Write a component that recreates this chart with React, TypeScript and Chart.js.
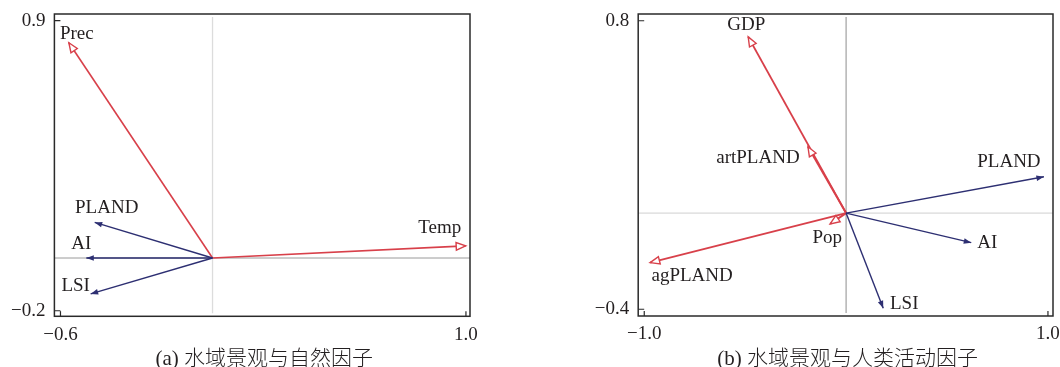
import React, { useEffect, useRef } from 'react';
import { Chart, registerables } from 'chart.js';

Chart.register(...registerables);

// ---------------- Data: panel (a) 水域景观与自然因子 ----------------
const aNames = ['PLAND', 'AI', 'LSI', 'Prec', 'Temp'];
const aX = [-0.465, -0.498, -0.481, -0.567, 0.999];
const aY = [0.135, 0.0, -0.136, 0.816, 0.046];
const aKind = ['landscape', 'landscape', 'landscape', 'factor', 'factor'];
const aXTicks = [-0.6, 1.0];
const aYTicks = [-0.2, 0.9];
const aXRange = [-0.624, 1.016];
const aYRange = [-0.221, 0.925];
const aCaption = '(a) 水域景观与自然因子';

// ---------------- Data: panel (b) 水域景观与人类活动因子 ----------------
const bNames = ['PLAND', 'AI', 'LSI', 'GDP', 'artPLAND', 'Pop', 'agPLAND'];
const bX = [0.98, 0.62, 0.184, -0.485, -0.189, -0.079, -0.971];
const bY = [0.151, -0.123, -0.396, 0.733, 0.276, -0.045, -0.206];
const bKind = ['landscape', 'landscape', 'landscape', 'factor', 'factor', 'factor', 'factor'];
const bXTicks = [-1.0, 1.0];
const bYTicks = [-0.4, 0.8];
const bXRange = [-1.03, 1.025];
const bYRange = [-0.428, 0.828];
const bCaption = '(b) 水域景观与人类活动因子';

// ---------------- Styles / layout ----------------
const RED = '#d8404a';
const NAVY = '#2d2f72';
const TEXT = '#231f20';
const SERIF = "'Liberation Serif', 'Times New Roman', serif";
const CAPTION_FONT = "300 21px 'Liberation Serif', 'Noto Sans CJK SC', serif";

// label offsets (pixels from arrow tip to label centre)
const aLabelOffsets = [[12, -14], [-5, -14], [-15, -8], [8, -9], [-26, -18]];
const bLabelOffsets = [[-35, -15], [16, 0], [21, -4], [-2, -12], [-50, 11], [-3, 14], [42, 13]];

const aLayout = { left: 54.4, right: 60, top: 14, bottom: 50.7, hLine: '#9a9a9a', vLine: '#dcdcdc', redWidth: 1.6 };
const bLayout = { left: 108.2, right: 7, top: 14, bottom: 51, hLine: '#cfcfcf', vLine: '#a8a8a8', redWidth: 1.9 };

const fmt = (v: number) => (v < 0 ? '\u2212' : '') + Math.abs(v).toFixed(1);

type PanelProps = {
  names: string[];
  xs: number[];
  ys: number[];
  kinds: string[];
  xTicks: number[];
  yTicks: number[];
  xRange: number[];
  yRange: number[];
  caption: string;
  offsets: number[][];
  layout: any;
};

function Panel(props: PanelProps) {
  const ref = useRef<HTMLCanvasElement | null>(null);
  useEffect(() => {
    const { names, xs, ys, kinds, xTicks, yTicks, xRange, yRange, caption, offsets, layout } = props;
    const order = names.map((_, i) => i).sort((i, j) => (kinds[i] === kinds[j] ? 0 : kinds[i] === 'landscape' ? -1 : 1));
    const datasets = order.map((i) => ({
      label: names[i],
      data: [{ x: 0, y: 0 }, { x: xs[i], y: ys[i] }],
      showLine: true,
      borderColor: kinds[i] === 'factor' ? RED : NAVY,
      borderWidth: kinds[i] === 'factor' ? layout.redWidth : 1.4,
      pointRadius: 0,
      pointHoverRadius: 0,
      fill: false,
    }));

    const arrowPlugin = {
      id: 'arrows',
      beforeDatasetsDraw(chart: any) {
        const { ctx, chartArea: ca, scales } = chart;
        const x0 = scales.x.getPixelForValue(0);
        const y0 = scales.y.getPixelForValue(0);
        ctx.save();
        ctx.lineWidth = 1;
        ctx.strokeStyle = layout.hLine;
        ctx.beginPath();
        ctx.moveTo(ca.left, y0);
        ctx.lineTo(ca.right, y0);
        ctx.stroke();
        ctx.strokeStyle = layout.vLine;
        ctx.lineWidth = 1.3;
        ctx.beginPath();
        ctx.moveTo(x0, ca.top + 3);
        ctx.lineTo(x0, ca.bottom - 3);
        ctx.stroke();
        ctx.restore();
      },
      afterDatasetsDraw(chart: any) {
        const { ctx, scales } = chart;
        const sx = scales.x;
        const sy = scales.y;
        const ox = sx.getPixelForValue(0);
        const oy = sy.getPixelForValue(0);
        ctx.save();
        order.forEach((i) => {
          const px = sx.getPixelForValue(xs[i]);
          const py = sy.getPixelForValue(ys[i]);
          const ang = Math.atan2(py - oy, px - ox);
          const open = kinds[i] === 'factor';
          const L = open ? 9.5 : 7.5;
          const W = open ? 3.8 : 2.8;
          const bx = px - L * Math.cos(ang);
          const by = py - L * Math.sin(ang);
          const nx = -Math.sin(ang);
          const ny = Math.cos(ang);
          ctx.beginPath();
          ctx.moveTo(px, py);
          ctx.lineTo(bx + W * nx, by + W * ny);
          ctx.lineTo(bx - W * nx, by - W * ny);
          ctx.closePath();
          if (open) {
            ctx.fillStyle = '#ffffff';
            ctx.fill();
            ctx.strokeStyle = RED;
            ctx.lineWidth = 1.4;
            ctx.stroke();
          } else {
            ctx.fillStyle = NAVY;
            ctx.fill();
          }
        });
        ctx.font = '19px ' + SERIF;
        ctx.fillStyle = TEXT;
        ctx.textAlign = 'center';
        ctx.textBaseline = 'middle';
        names.forEach((n, i) => {
          const px = sx.getPixelForValue(xs[i]);
          const py = sy.getPixelForValue(ys[i]);
          ctx.fillText(n, px + offsets[i][0], py + offsets[i][1]);
        });
        ctx.restore();
      },
      afterDraw(chart: any) {
        const { ctx, chartArea: ca, scales } = chart;
        ctx.save();
        ctx.strokeStyle = '#2a2a2a';
        ctx.lineWidth = 1.5;
        ctx.strokeRect(ca.left, ca.top, ca.right - ca.left, ca.bottom - ca.top);
        ctx.lineWidth = 1.2;
        ctx.beginPath();
        xTicks.forEach((t) => {
          const p = scales.x.getPixelForValue(t);
          ctx.moveTo(p, ca.bottom);
          ctx.lineTo(p, ca.bottom - 5);
        });
        yTicks.forEach((t) => {
          const p = scales.y.getPixelForValue(t);
          ctx.moveTo(ca.left, p);
          ctx.lineTo(ca.left + 6, p);
        });
        ctx.stroke();
        ctx.font = CAPTION_FONT;
        ctx.fillStyle = TEXT;
        ctx.textAlign = 'center';
        ctx.textBaseline = 'middle';
        ctx.fillText(caption, (ca.left + ca.right) / 2 + 2, 359.5);
        ctx.restore();
      },
    };

    const chart = new Chart(ref.current as HTMLCanvasElement, {
      type: 'scatter',
      data: { datasets },
      options: {
        responsive: false,
        animation: false,
        events: [],
        layout: { padding: { left: 0, right: layout.right, top: layout.top, bottom: 0 } },
        plugins: { legend: { display: false }, tooltip: { enabled: false }, title: { display: false } },
        scales: {
          x: {
            type: 'linear',
            min: xRange[0],
            max: xRange[1],
            grid: { display: false, drawTicks: false },
            border: { display: false },
            afterBuildTicks: (s: any) => {
              s.ticks = xTicks.map((v) => ({ value: v }));
            },
            afterFit: (s: any) => {
              s.height = layout.bottom;
              s.paddingLeft = 0;
              s.paddingRight = 0;
            },
            ticks: {
              autoSkip: false,
              maxRotation: 0,
              padding: 7,
              color: TEXT,
              font: { family: SERIF, size: 19 },
              callback: (v: any) => fmt(Number(v)),
            },
          },
          y: {
            type: 'linear',
            min: yRange[0],
            max: yRange[1],
            grid: { display: false, drawTicks: false },
            border: { display: false },
            afterBuildTicks: (s: any) => {
              s.ticks = yTicks.map((v) => ({ value: v }));
            },
            afterFit: (s: any) => {
              s.width = layout.left;
              s.paddingTop = 0;
              s.paddingBottom = 0;
            },
            ticks: {
              autoSkip: false,
              padding: 9,
              color: TEXT,
              font: { family: SERIF, size: 19 },
              callback: (v: any) => fmt(Number(v)),
            },
          },
        },
      },
      plugins: [arrowPlugin],
    } as any);
    return () => chart.destroy();
  }, []);
  return <canvas ref={ref} width={530} height={367} style={{ display: 'block', width: 530, height: 367 }} />;
}

export default function App() {
  return (
    <div style={{ position: 'fixed', left: 0, top: 0, width: 1060, height: 367, display: 'flex', background: '#fff' }}>
      <Panel names={aNames} xs={aX} ys={aY} kinds={aKind} xTicks={aXTicks} yTicks={aYTicks} xRange={aXRange} yRange={aYRange} caption={aCaption} offsets={aLabelOffsets} layout={aLayout} />
      <Panel names={bNames} xs={bX} ys={bY} kinds={bKind} xTicks={bXTicks} yTicks={bYTicks} xRange={bXRange} yRange={bYRange} caption={bCaption} offsets={bLabelOffsets} layout={bLayout} />
    </div>
  );
}
